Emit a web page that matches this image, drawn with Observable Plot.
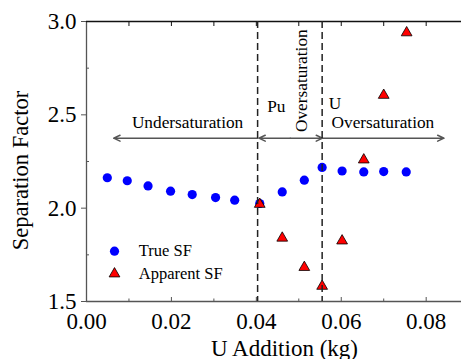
<!DOCTYPE html>
<html><head><meta charset="utf-8">
<script src="https://cdn.jsdelivr.net/npm/d3@7"></script>
<script src="https://cdn.jsdelivr.net/npm/@observablehq/plot@0.6"></script>
<style>body{margin:0;background:#fff;} svg{display:block;}</style>
</head><body><div id="chart"></div>
<script>
// ---- data ----
const trueX = [0.0049, 0.0096, 0.0145, 0.0198, 0.0249, 0.0304, 0.0349, 0.0408, 0.0461, 0.0513, 0.0555, 0.0602, 0.0653, 0.0700, 0.0753];
const trueY = [2.163, 2.147, 2.119, 2.091, 2.073, 2.057, 2.043, 2.025, 2.087, 2.150, 2.218, 2.199, 2.194, 2.196, 2.194];
const appX = [0.0408, 0.0461, 0.0513, 0.0555, 0.0602, 0.0653, 0.0700, 0.0754];
const appY = [2.021, 1.840, 1.683, 1.582, 1.825, 2.259, 2.605, 2.940];
const seriesNames = ["True SF", "Apparent SF"];
const boundaries = [0.0403, 0.0555];
const arrowY = 2.375;
const arrowFrom = [0.0403, 0.0480, 0.0480, 0.0555];
const arrowTo = [0.0064, 0.0406, 0.0556, 0.0842];
const annText = ["Undersaturation", "Pu", "Oversaturation", "U", "Oversaturation"];
const annX = [0.0238, 0.0447, 0.0506, 0.0585, 0.0698];
const annY = [2.459, 2.547, 2.683, 2.561, 2.459];
const annRotate = [0, 0, -90, 0, 0];
const xMajor = [0, 0.02, 0.04, 0.06, 0.08];
const xMinor = [0.01, 0.03, 0.05, 0.07];
const xTop = [0.01, 0.02, 0.03, 0.04, 0.05, 0.06, 0.07, 0.08];
const yMajor = [1.5, 2.0, 2.5, 3.0];
const yMinor = [1.75, 2.25, 2.75];
const xLabel = "U Addition (kg)";
const yLabel = "Separation Factor";

const trueData = trueX.map((x, i) => ({x, y: trueY[i]}));
const appData = appX.map((x, i) => ({x, y: appY[i]}));
const arrows = arrowFrom.map((x1, i) => ({x1, x2: arrowTo[i], y: arrowY}));
const anns = annText.map((t, i) => ({t, x: annX[i], y: annY[i], r: annRotate[i]}));

const ff = "Liberation Serif";
const blank = () => "";

const chart = Plot.plot({
  width: 461, height: 359,
  marginLeft: 86, marginRight: 0, marginTop: 21, marginBottom: 58,
  style: {fontFamily: ff, background: "white"},
  x: {domain: [0, 0.08832]},
  y: {domain: [1.5, 3]},
  marks: [
    Plot.ruleX([0], {stroke: "#555", strokeWidth: 1.3}),
    Plot.ruleY([1.5], {stroke: "#555", strokeWidth: 1.3}),
    Plot.ruleY([3], {stroke: "#111", strokeWidth: 1.3}),
    Plot.axisY(yMajor, {tickSize: 5, tickPadding: 5, tickFormat: d3.format(".1f"), fontSize: 23, fontFamily: ff, stroke: "#555", label: null}),
    Plot.axisY(yMinor, {tickSize: 3, dx: 3, tickFormat: blank, fontFamily: ff, stroke: "#555", label: null}),
    Plot.axisX(xMajor.slice(1), {tickSize: 4, dy: -4, tickFormat: blank, fontFamily: ff, stroke: "#555", label: null}),
    Plot.axisX(xMinor, {tickSize: 2.5, dy: -2.5, tickFormat: blank, fontFamily: ff, stroke: "#555", label: null}),
    Plot.axisX(xMajor, {tickSize: 0, tickPadding: 11, tickFormat: d3.format(".2f"), fontSize: 23, fontFamily: ff, label: null}),
    Plot.axisX(xTop, {anchor: "top", tickSize: 4, dy: 4, tickFormat: blank, fontFamily: ff, stroke: "#111", label: null}),
    Plot.arrow(arrows, {x1: "x1", x2: "x2", y1: "y", y2: "y", stroke: "#555", strokeWidth: 1.5, headLength: 7, headAngle: 50}),
    Plot.text(anns, {x: "x", y: "y", text: "t", rotate: "r", fontSize: 17.3, fontFamily: ff, textAnchor: "middle", lineAnchor: "middle"}),
    Plot.dot(trueData, {x: "x", y: "y", r: 4.6, fill: "#0000ff"}),
    Plot.dot(appData, {x: "x", y: "y", r: 4, symbol: "triangle", fill: "#ff0000", stroke: "#000", strokeWidth: 0.8}),
    Plot.ruleX(boundaries, {stroke: "#222", strokeWidth: 1.5, strokeDasharray: "7,4"}),
    // legend
    Plot.dot([seriesNames[0]], {frameAnchor: "top-left", dx: 28, dy: 229.7, r: 4.6, fill: "#0000ff"}),
    Plot.dot([seriesNames[1]], {frameAnchor: "top-left", dx: 28, dy: 252.3, r: 4, symbol: "triangle", fill: "#ff0000", stroke: "#000", strokeWidth: 0.8}),
    Plot.text([seriesNames[0]], {frameAnchor: "top-left", dx: 52.3, dy: 229.5, fontSize: 16.5, fontFamily: ff, textAnchor: "start", lineAnchor: "middle"}),
    Plot.text([seriesNames[1]], {frameAnchor: "top-left", dx: 52.3, dy: 252, fontSize: 16.5, fontFamily: ff, textAnchor: "start", lineAnchor: "middle"}),
    // axis titles
    Plot.text([xLabel], {frameAnchor: "bottom", dx: 10.5, dy: 47, fontSize: 23, fontFamily: ff, textAnchor: "middle", lineAnchor: "middle"}),
    Plot.text([yLabel], {frameAnchor: "left", dx: -65.5, dy: 9, rotate: -90, fontSize: 22.5, fontFamily: ff, textAnchor: "middle", lineAnchor: "middle"})
  ]
});

document.getElementById("chart").appendChild(chart);
</script>
</body></html>
